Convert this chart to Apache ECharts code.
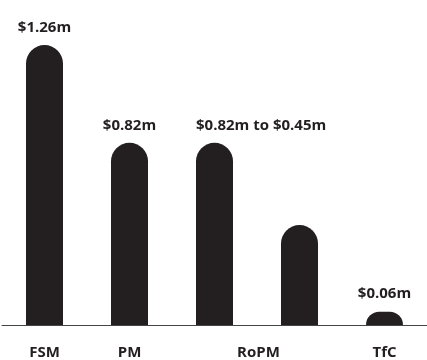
<!DOCTYPE html>
<html>
<head>
<meta charset="utf-8">
<style>
  html, body { margin: 0; padding: 0; background: #ffffff; }
  #chart { width: 427px; height: 360px; }
</style>
<script src="https://cdn.jsdelivr.net/npm/echarts@6/dist/echarts.min.js"></script>
</head>
<body>
<div id="chart"></div>
<script>
// Data
const categories = ['FSM', 'PM', 'RoPM', 'RoPM', 'TfC'];
const values = [1.26, 0.82, 0.82, 0.45, 0.06];
const valueLabels = ['$1.26m', '$0.82m', '$0.82m to $0.45m', '', '$0.06m'];

const ink = '#231f20';
const font = 'Open Sans';

const chart = echarts.init(document.getElementById('chart'), null, { renderer: 'canvas' });

const axisData = categories.map(function (c, i) {
  if (i === 3) return { value: c, textStyle: { color: 'transparent' } };
  if (i === 2) return { value: c, textStyle: { padding: [0, 0, 0, 88] } };
  return c;
});

const barData = values.map(function (v, i) {
  const item = { value: v };
  if (i === 2) {
    item.label = { position: [0, -10], align: 'left', verticalAlign: 'bottom' };
  }
  return item;
});

chart.setOption({
  animation: false,
  grid: { left: 2, right: -16, top: 13.9, bottom: 35, containLabel: false },
  xAxis: {
    type: 'category',
    data: axisData,
    boundaryGap: true,
    axisLine: { show: true, lineStyle: { color: '#444', width: 1 } },
    axisTick: { show: false },
    axisLabel: {
      margin: 20,
      color: ink,
      fontFamily: font,
      fontWeight: 'bold',
      fontSize: 15
    },
    splitLine: { show: false }
  },
  yAxis: {
    type: 'value',
    min: 0,
    max: 1.4,
    show: false
  },
  series: [{
    type: 'bar',
    data: barData,
    barWidth: 37,
    itemStyle: { color: ink, borderRadius: [18.5, 18.5, 0, 0] },
    label: {
      show: true,
      position: 'top',
      distance: 10,
      color: ink,
      fontFamily: font,
      fontWeight: 'bold',
      fontSize: 15,
      formatter: function (p) { return valueLabels[p.dataIndex]; }
    }
  }]
});
</script>
</body>
</html>
